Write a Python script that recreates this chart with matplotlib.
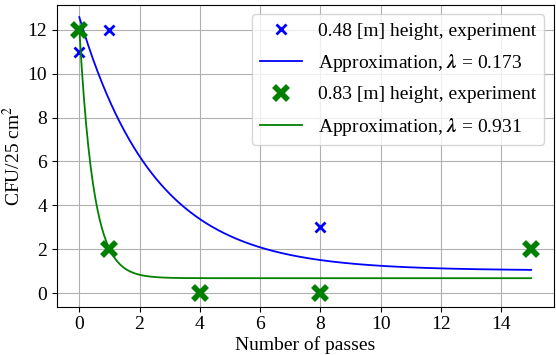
import numpy as np
import matplotlib
matplotlib.use('Agg')
import matplotlib.pyplot as plt

plt.rcParams['font.family'] = ['Liberation Serif', 'DejaVu Serif']
plt.rcParams['mathtext.fontset'] = 'stix'
plt.rcParams['font.size'] = 14

# experiment, 0.48 m height
passes_048 = [0, 0, 1, 8]
cfu_048 = [11, 12, 12, 3]
# experiment, 0.83 m height
passes_083 = [0, 1, 4, 8, 15]
cfu_083 = [12, 2, 0, 0, 2]

# approximation y = A * 10^(-lambda * n) + C
lambdas = [0.173, 0.931]
amplitudes = [11.55, 11.4]
offsets = [1.03, 0.68]

n = np.linspace(0, 15, 400)

fig = plt.figure(figsize=(5.56, 3.55), dpi=100)
ax = fig.add_axes([0.102, 0.136, 0.894, 0.851])

ax.plot(passes_048, cfu_048, 'x', color='blue', ms=7.5, mew=2,
        label='0.48 [m] height, experiment')
ax.plot(n, amplitudes[0] * 10 ** (-lambdas[0] * n) + offsets[0], color='blue', lw=1.3,
        label=r'Approximation, $\mathbfit{\lambda}$ = %.3f' % lambdas[0])
ax.plot(passes_083, cfu_083, 'x', color='green', ms=10, mew=4,
        label='0.83 [m] height, experiment')
ax.plot(n, amplitudes[1] * 10 ** (-lambdas[1] * n) + offsets[1], color='green', lw=1.3,
        label=r'Approximation, $\mathbfit{\lambda}$ = %.3f' % lambdas[1])

ax.set_xticks(range(0, 15, 2))
ax.set_yticks(range(0, 13, 2))
ax.set_ylim(-0.62, 13.15)
ax.grid(True)
ax.set_xlabel('Number of passes', labelpad=2)
ax.set_ylabel('CFU/25 cm$^2$', labelpad=2)
ax.legend(loc='upper right', handlelength=2.2, labelspacing=0.62)

fig.savefig('out.png', dpi=100)
